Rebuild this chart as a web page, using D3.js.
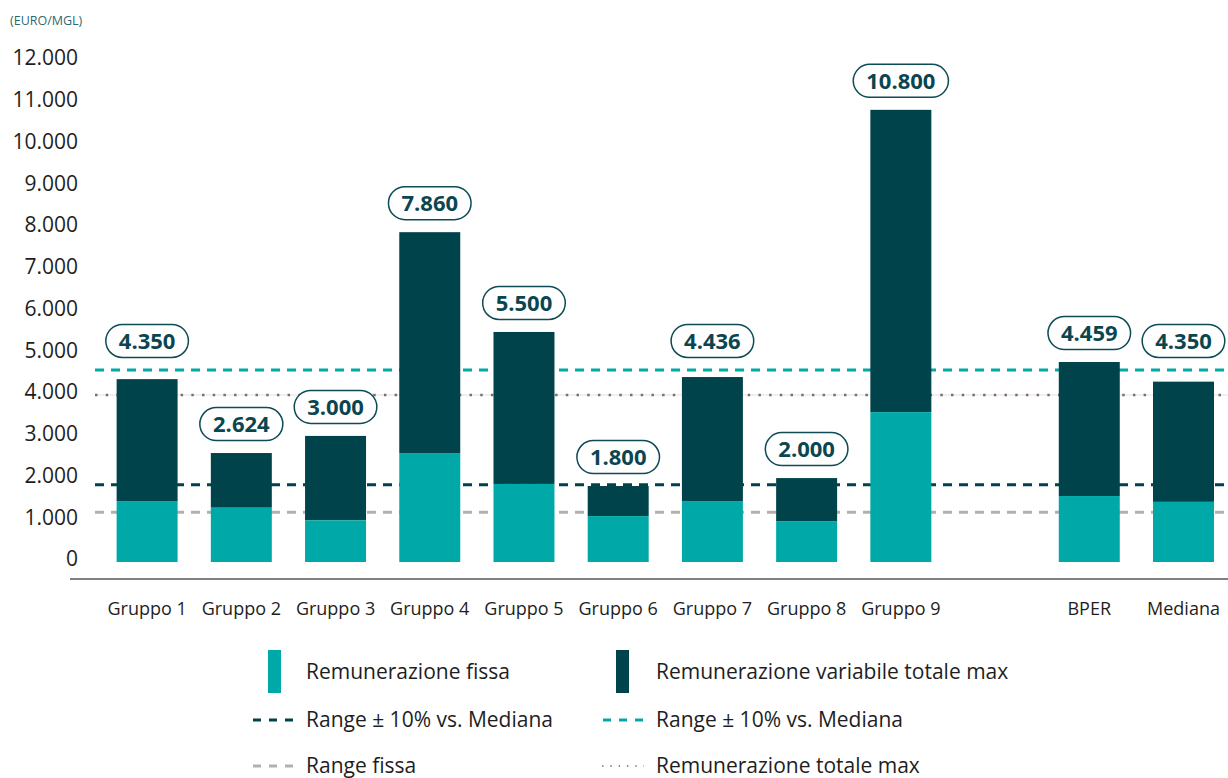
<!DOCTYPE html>
<html lang="it">
<head>
<meta charset="UTF-8">
<title>Remunerazione</title>
<script src="https://d3js.org/d3.v7.min.js"></script>
<style>
  body { margin: 0; background: #fff; }
  svg { display: block; font-family: "Open Sans", "Noto Sans", sans-serif; }
</style>
</head>
<body>
<script>
const categories = ["Gruppo 1", "Gruppo 2", "Gruppo 3", "Gruppo 4", "Gruppo 5", "Gruppo 6",
                    "Gruppo 7", "Gruppo 8", "Gruppo 9", "", "BPER", "Mediana"];
const fissa  = [1460, 1300, 1000, 2610, 1870, 1100, 1460, 980, 3590, null, 1580, 1440];
const totale = [4380, 2610, 3020, 7900, 5510, 1820, 4430, 2010, 10830, null, 4790, 4320];
const labels = ["4.350", "2.624", "3.000", "7.860", "5.500", "1.800", "4.436", "2.000", "10.800", null, "4.459", "4.350"];
const yTicks = [0, 1000, 2000, 3000, 4000, 5000, 6000, 7000, 8000, 9000, 10000, 11000, 12000];

const rangeMedianaHigh = 4600;   // teal dashed
const rangeMedianaLow  = 1850;   // dark dashed
const rangeFissa       = 1190;   // grey dashed
const totaleMax        = 4000;   // dotted

const TEAL = "#00a9a7", DARK = "#01434b", TEXT = "#1e1e1e";

const w = 1228, h = 778;
const svg = d3.select("body").append("svg").attr("width", w).attr("height", h);

const x = d3.scaleBand().domain(categories).range([100, 1230.6])
  .paddingInner(0.3527).paddingOuter(0.17635);
const y = d3.scaleLinear().domain([0, 12000]).range([562, 61]);

const fmt = d3.formatLocale({ decimal: ",", thousands: ".", grouping: [3], currency: ["€", ""] }).format(",d");

// unit
svg.append("text").attr("x", 10).attr("y", 25)
  .attr("font-size", 12.5).attr("fill", "#2b6a70").text("(EURO/MGL)");

// y axis labels
svg.append("g").selectAll("text").data(yTicks).join("text")
  .attr("x", 78).attr("y", d => y(d) - 3).attr("dy", "0.35em")
  .attr("text-anchor", "end").attr("font-size", 21).attr("fill", TEXT)
  .text(d => fmt(d));

// reference lines (behind bars)
const lines = [
  { v: rangeMedianaHigh, color: TEAL, dash: "9,7", width: 3 },
  { v: rangeMedianaLow, color: DARK, dash: "9,7", width: 3 },
  { v: rangeFissa, color: "#b5afab", dash: "9,7", width: 3 },
];
svg.append("line").attr("x1", 95).attr("x2", w)
  .attr("y1", y(totaleMax)).attr("y2", y(totaleMax))
  .attr("stroke", "#e4dfdc").attr("stroke-width", 1);
svg.append("line").attr("x1", 95).attr("x2", w)
  .attr("y1", y(totaleMax)).attr("y2", y(totaleMax))
  .attr("stroke", "#7b6f6a").attr("stroke-width", 2.5)
  .attr("stroke-dasharray", "2.5,8.2");
svg.append("g").selectAll("line").data(lines).join("line")
  .attr("x1", 95).attr("x2", w)
  .attr("y1", d => y(d.v)).attr("y2", d => y(d.v))
  .attr("stroke", d => d.color).attr("stroke-width", d => d.width)
  .attr("stroke-dasharray", d => d.dash);

// bars
const idx = d3.range(categories.length).filter(i => totale[i] != null);
svg.append("g").selectAll("rect").data(idx).join("rect")
  .attr("x", i => x(categories[i])).attr("width", x.bandwidth())
  .attr("y", i => y(totale[i])).attr("height", i => y(fissa[i]) - y(totale[i]))
  .attr("fill", DARK);
svg.append("g").selectAll("rect").data(idx).join("rect")
  .attr("x", i => x(categories[i])).attr("width", x.bandwidth())
  .attr("y", i => y(fissa[i])).attr("height", i => y(0) - y(fissa[i]))
  .attr("fill", TEAL);

// value pills
const lineY = y(rangeMedianaHigh);
const pills = svg.append("g").selectAll("g").data(idx).join("g")
  .attr("transform", i => {
    let cy = y(totale[i]) - 29;
    if (Math.abs(cy - lineY) < 29) cy = lineY - 29;
    return `translate(${x(categories[i]) + x.bandwidth() / 2},${cy})`;
  });
pills.append("text").attr("text-anchor", "middle").attr("dy", "0.36em")
  .attr("font-size", 22).attr("font-weight", 700).attr("fill", "#0b4650")
  .text(i => labels[i]);
pills.each(function () {
  const g = d3.select(this);
  const bb = g.select("text").node().getBBox();
  const pw = bb.width + 26, ph = 33;
  g.insert("rect", "text").attr("x", -pw / 2).attr("y", -ph / 2)
    .attr("width", pw).attr("height", ph).attr("rx", ph / 2)
    .attr("fill", "#fff").attr("stroke", "#0d4b55").attr("stroke-width", 1.5);
});

// x axis
svg.append("line").attr("x1", 70).attr("x2", w).attr("y1", 579).attr("y2", 579)
  .attr("stroke", "#808080").attr("stroke-width", 2);
svg.append("g").selectAll("text").data(categories.filter(c => c)).join("text")
  .attr("x", c => x(c) + x.bandwidth() / 2).attr("y", 609).attr("dy", "0.35em")
  .attr("text-anchor", "middle").attr("font-size", 18).attr("fill", TEXT)
  .text(c => c);

// legend
const leg = svg.append("g").attr("font-size", 21).attr("fill", TEXT);
const legItems = [
  { type: "rect", color: TEAL, text: "Remunerazione fissa", lx: 268, tx: 306, cy: 672 },
  { type: "rect", color: DARK, text: "Remunerazione variabile totale max", lx: 616, tx: 656, cy: 672 },
  { type: "dash", color: DARK, text: "Range \u00B1 10% vs. Mediana", lx: 253, tx: 306, cy: 720 },
  { type: "dash", color: TEAL, text: "Range \u00B1 10% vs. Mediana", lx: 603, tx: 656, cy: 720 },
  { type: "dash", color: "#b5afab", text: "Range fissa", lx: 253, tx: 306, cy: 766 },
  { type: "dot", color: "#7b6f6a", text: "Remunerazione totale max", lx: 602, tx: 656, cy: 766 },
];
legItems.forEach(d => {
  if (d.type === "rect") {
    leg.append("rect").attr("x", d.lx).attr("y", d.cy - 22).attr("width", 13).attr("height", 43)
      .attr("fill", d.color);
  } else if (d.type === "dash") {
    leg.append("line").attr("x1", d.lx).attr("x2", d.lx + 41).attr("y1", d.cy).attr("y2", d.cy)
      .attr("stroke", d.color).attr("stroke-width", 3).attr("stroke-dasharray", "8,8");
  } else {
    leg.append("line").attr("x1", d.lx).attr("x2", d.lx + 42).attr("y1", d.cy).attr("y2", d.cy)
      .attr("stroke", d.color).attr("stroke-width", 1.5).attr("stroke-dasharray", "1.5,6.8");
  }
  leg.append("text").attr("x", d.tx).attr("y", d.cy).attr("dy", "0.35em").text(d.text);
});
</script>
</body>
</html>
